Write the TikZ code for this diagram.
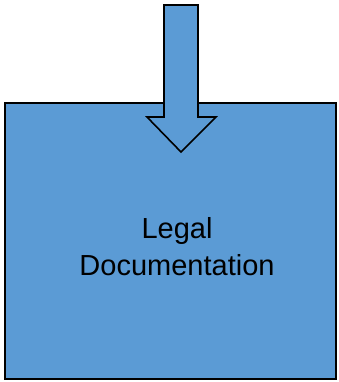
\documentclass[tikz,border=0pt]{standalone}
\usepackage{fontspec}
\setmainfont{Liberation Sans}
\usetikzlibrary{positioning, calc}
\definecolor{docblue}{HTML}{5B9BD5}
\tikzset{
  docbox/.style={draw=black, line width=1.6pt, fill=docblue, minimum width=331pt,
    minimum height=276pt, inner sep=0pt},
  doctext/.style={align=center, font=\fontsize{29}{37}\selectfont, inner sep=0pt},
  blockarrow/.style={draw=black, line width=1.6pt, fill=docblue, line join=miter}
}
\begin{document}
\begin{tikzpicture}[x=1pt, y=-1pt]
  \useasboundingbox (0,0) rectangle (339,382);

  % === Document box ===
  \node[docbox] (legalbox) at (170.5,241) {};
  \node[doctext] (legallabel) at (177,247) {Legal\\Documentation};

  % === Incoming block arrow ===
  \coordinate (arrowtop) at (181,5);
  \draw[blockarrow] ($(arrowtop)+(-17,0)$) -- ++(34,0) -- ++(0,112) -- ++(18,0)
    -- (181,152) -- (147,117) -- ++(17,0) -- cycle;
\end{tikzpicture}
\end{document}
